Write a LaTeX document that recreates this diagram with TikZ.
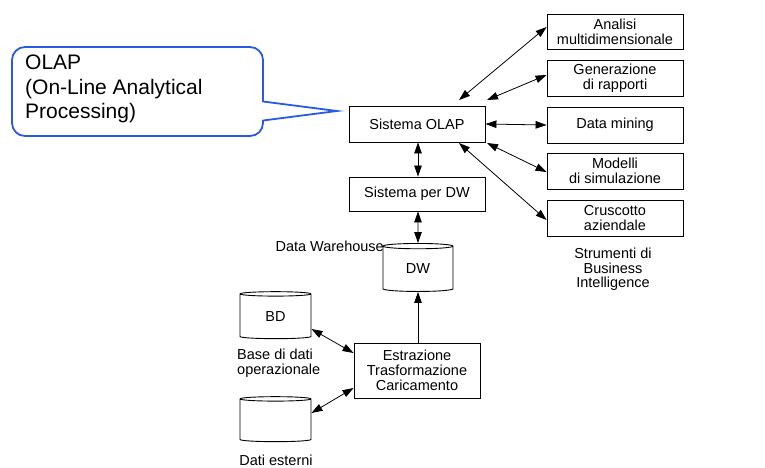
\documentclass[tikz,border=0pt]{standalone}
\usepackage{fontspec}
\setmainfont{Liberation Sans}
\usetikzlibrary{arrows.meta,shapes.geometric}
\definecolor{callblue}{RGB}{40,90,230}
\begin{document}
\begin{tikzpicture}[x=1pt,y=-1pt,
  box/.style={draw,line width=0.9pt,inner sep=0pt,align=center,font=\fontsize{14.5}{15}\selectfont},
  cyl/.style={draw,line width=0.9pt,cylinder,shape border rotate=90,aspect=0.22,inner sep=0pt,font=\fontsize{14.5}{15}\selectfont},
  lab/.style={inner sep=0pt,align=center,font=\fontsize{14.5}{14.5}\selectfont},
  tip/.style={Triangle[length=11pt,width=7.5pt]},
  biarrow/.style={{Triangle[length=11pt,width=7.5pt]}-{Triangle[length=11pt,width=7.5pt]},line width=0.8pt},
  uniarrow/.style={-{Triangle[length=11pt,width=7.5pt]},line width=0.8pt},
  callline/.style={callblue,line width=1.8pt,line join=miter}]
\useasboundingbox (0,0) rectangle (765,467);
% callout
\draw[callline,rounded corners=13] (12,47) rectangle (263,136);
\fill[white] (260,102) rectangle (266,120);
\draw[callline] (263,101.5) -- (337,111) -- (263,120.5);
\node[anchor=north west,inner sep=0pt,align=left,font=\fontsize{21}{24.5}\selectfont] (callt) at (25,55)
  {OLAP\\(On-Line Analytical\\Processing)};
% boxes
\node[box,minimum width=136,minimum height=36] (olap) at (417,124) {Sistema OLAP};
\node[box,minimum width=136,minimum height=34] (sdw) at (417,194) {Sistema per DW};
\node[box,minimum width=136,minimum height=35] (an) at (615,31.5) {Analisi\\multidimensionale};
\node[box,minimum width=136,minimum height=36] (gen) at (615,78) {Generazione\\di rapporti};
\node[box,minimum width=136,minimum height=36] (dm) at (615,125) {Data mining};
\node[box,minimum width=136,minimum height=36] (mod) at (615,171) {Modelli\\di simulazione};
\node[box,minimum width=136,minimum height=36] (cru) at (615,218) {Cruscotto\\aziendale};
\node[box,minimum width=126,minimum height=55] (etl) at (417,370.5) {Estrazione\\Trasformazione\\Caricamento};
% cylinders
\node[cyl,minimum width=70,minimum height=48] (dw) at (418,269) {DW};
\node[cyl,minimum width=71,minimum height=47] (bd) at (275.5,316.5) {BD};
\node[cyl,minimum width=71,minimum height=45] (est) at (275.5,420.5) {\phantom{BD}};
% labels
\node[lab,anchor=east] (dwl) at (384,246) {Data Warehouse};
\node[lab,anchor=north west,align=left] (bdl) at (237,349) {Base di dati\\operazionale};
\node[lab] (estl) at (276,460) {Dati esterni};
\node[lab] (bil) at (613,269.5) {Strumenti di\\Business\\Intelligence};
% connectors
\coordinate (o1) at (459,100);
\coordinate (o2) at (487,100);
\coordinate (o3) at (487,143);
\coordinate (o4) at (459,143);
\draw[biarrow] (o1) -- (an.west |- 0,27);
\draw[biarrow] (o2) -- (gen.west |- 0,75);
\draw[biarrow] (olap.east) -- (dm.west);
\draw[biarrow] (o3) -- (mod.west |- 0,172);
\draw[biarrow] (o4) -- (cru.west |- 0,220);
\draw[biarrow] (olap.south -| 418,0) -- (sdw.north -| 418,0);
\draw[biarrow] (sdw.south -| 418,0) -- (dw.north);
\draw[uniarrow] (etl.north -| 418,0) -- (dw.south);
\draw[biarrow] (bd.east |- 0,329) -- (etl.west |- 0,353);
\draw[biarrow] (est.east |- 0,413) -- (etl.west |- 0,388);
\end{tikzpicture}
\end{document}
